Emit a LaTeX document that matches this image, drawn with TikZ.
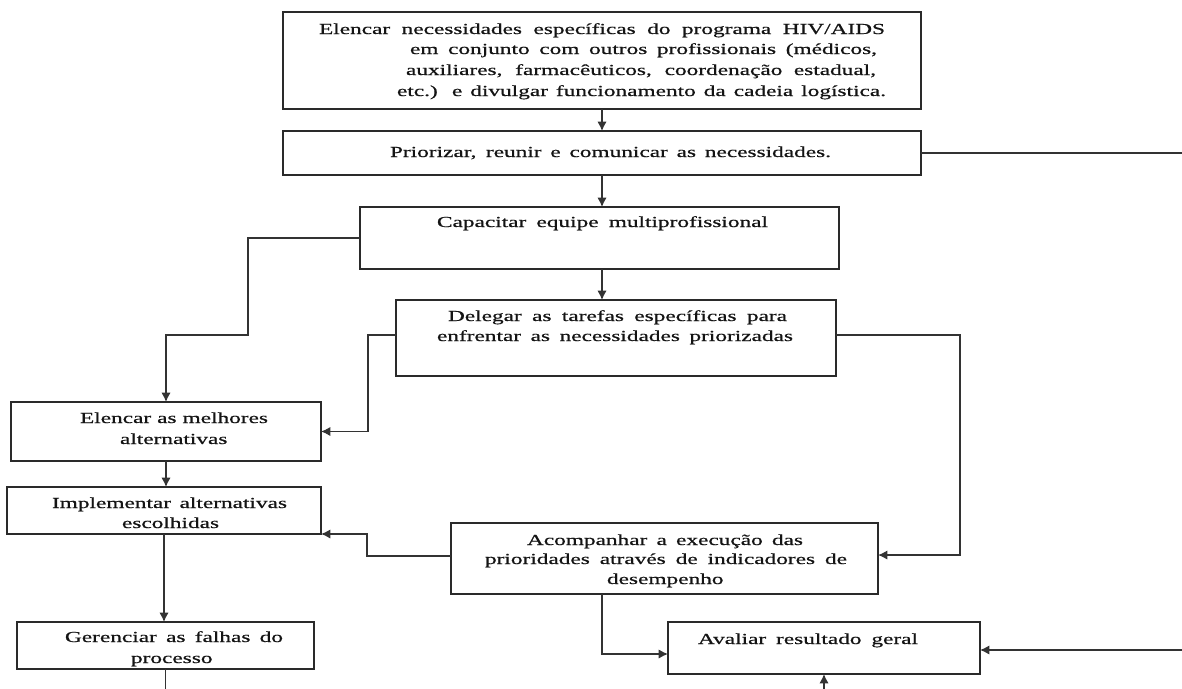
\documentclass[tikz,border=0pt]{standalone}
\usepackage{fontspec}
\setmainfont{Liberation Serif}
\newfontfamily\widefont[FakeStretch=1.52,FakeBold=0.7]{Liberation Serif}
\usetikzlibrary{arrows.meta}
\newlength\pxu
\setlength\pxu{0.75pt}
\newcommand\spreadline[2]{\makebox[#1\pxu][s]{#2}}
\definecolor{boxc}{HTML}{2A2A2A}
\definecolor{linec}{HTML}{333333}
\begin{document}
\begin{tikzpicture}[x=0.75pt,y=-0.75pt,
  box/.style={draw=boxc,line width=1.3pt,inner sep=0pt,outer sep=0pt},
  txt/.style={inner sep=0pt,outer sep=0pt,anchor=base west,text=black!92,
    font=\widefont\fontsize{11.5pt}{15pt}\selectfont},
  conn/.style={draw=linec,line width=1.05pt},
  arr/.style={conn,-{Latex[length=7pt,width=7pt]}}]
\useasboundingbox (0,0) rectangle (1182,689);

% boxes
\node[box,minimum width=638*0.75pt,minimum height=97*0.75pt] (b1) at (602,60.5) {};
\node[box,minimum width=638*0.75pt,minimum height=44*0.75pt] (b2) at (602,153) {};
\node[box,minimum width=479*0.75pt,minimum height=62*0.75pt] (b3) at (599.5,238) {};
\node[box,minimum width=440*0.75pt,minimum height=76*0.75pt] (b4) at (616,338) {};
\node[box,minimum width=310*0.75pt,minimum height=59*0.75pt] (b5) at (166,431.5) {};
\node[box,minimum width=314*0.75pt,minimum height=47*0.75pt] (b6) at (164,510.5) {};
\node[box,minimum width=427*0.75pt,minimum height=71*0.75pt] (b7) at (664.5,558.5) {};
\node[box,minimum width=297*0.75pt,minimum height=47*0.75pt] (b8) at (165.5,645.5) {};
\node[box,minimum width=312*0.75pt,minimum height=52*0.75pt] (b9) at (824,648) {};

% texts
\node[txt] (t1a) at (319,34) {\spreadline{566}{Elencar necessidades específicas do programa HIV/AIDS}};
\node[txt] (t1b) at (410,54) {\spreadline{467}{em conjunto com outros profissionais (médicos,}};
\node[txt] (t1c) at (406,75) {\spreadline{470}{auxiliares, farmacêuticos, coordenação estadual,}};
\node[txt] (t1d) at (397,96) {\spreadline{489}{etc.) e divulgar funcionamento da cadeia logística.}};
\node[txt] (t2) at (390,157) {\spreadline{441}{Priorizar, reunir e comunicar as necessidades.}};
\node[txt] (t3) at (437,227) {\spreadline{331}{Capacitar equipe multiprofissional}};
\node[txt] (t4a) at (448,321) {\spreadline{339}{Delegar as tarefas específicas para}};
\node[txt] (t4b) at (437,341) {\spreadline{356}{enfrentar as necessidades priorizadas}};
\node[txt] (t5a) at (80,423) {\spreadline{188}{Elencar as melhores}};
\node[txt] (t5b) at (120,444) {alternativas};
\node[txt] (t6a) at (52,508) {\spreadline{235}{Implementar alternativas}};
\node[txt] (t6b) at (122,528) {escolhidas};
\node[txt] (t7a) at (527,545) {\spreadline{276}{Acompanhar a execução das}};
\node[txt] (t7b) at (485,564) {\spreadline{362}{prioridades através de indicadores de}};
\node[txt] (t7c) at (607,584) {desempenho};
\node[txt] (t8a) at (65,642) {\spreadline{218}{Gerenciar as falhas do}};
\node[txt] (t8b) at (131,663) {processo};
\node[txt] (t9) at (698,644) {\spreadline{220}{Avaliar resultado geral}};

% free ends and bends
\coordinate (e1) at (1182,152);
\coordinate (e2) at (1182,650);
\coordinate (e3) at (824,689);
\coordinate (e4) at (166,689);
\coordinate (j1) at (248,335);

% connectors
\draw[arr] (b1.south) -- (b2.north);
\draw[conn] (b2.east) -- (b2.east -| e1);
\draw[arr] (b2.south) -- (b3.north -| b2.south);
\draw[arr] (b3.south -| b2.south) -- (b4.north -| b2.south);
\draw[arr] (b3.west) -| (j1) -| (b5.north);
\draw[arr] ([yshift=2.25pt]b4.west) -- ++(-28,0) |- (b5.east);
\draw[arr] ([yshift=2.25pt]b4.east) -- ++(124,0) |- ([yshift=2.6pt]b7.east);
\draw[arr] (b5.south) -- (b6.north -| b5.south);
\draw[arr] ([yshift=1.9pt]b7.west) -- ++(-84,0) |- (b6.south east);
\draw[arr] (b6.south) -- (b8.north -| b6.south);
\draw[conn] (b8.south) -- (b8.south |- e4);
\draw[arr] (b7.south -| b2.south) |- ([yshift=-4.5pt]b9.west);
\draw[arr] (e2) -- (b9.east |- e2);
\draw[arr] (e3) -- (b9.south);
\end{tikzpicture}
\end{document}
